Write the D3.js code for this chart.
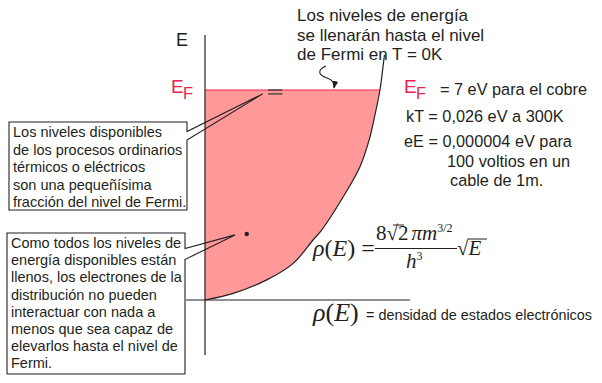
<!DOCTYPE html>
<html><head><meta charset="utf-8">
<script src="https://cdn.jsdelivr.net/npm/d3@7"></script>
<style>
html,body{margin:0;padding:0;background:#fff;}
svg{display:block;}
.sans{font-family:Arial,"Liberation Sans",Helvetica,sans-serif;}
.serif{font-family:"Times New Roman","Liberation Serif",serif;}
</style></head>
<body>
<svg id="chart" width="602" height="383"></svg>
<script>
// ---- data ----
const curveE   = [0, 0.22, 0.67, 1.22, 2.0, 2.33, 3.44, 4.44, 5.44, 5.67, 7.0, 7.83, 8.17]; // energy (eV)
const curveRho = [0, 0.157, 0.343, 0.49, 0.60, 0.648, 0.768, 0.861, 0.917, 0.926, 0.972, 0.99, 0.997]; // density of states (rel.)
const fermiE = 7;                 // E_F for copper (eV)
const levelBandE = [7.0, 6.87];   // thin band of accessible levels near E_F
const levelBandRho = [0.35, 0.43];
const deepPoint = {rho: 0.232, E: 2.2};
const axisE = [-1.83, 8.83];
const axisRho = [-0.106, 1.139];

const topNote = ["Los niveles de energía", "se llenarán hasta el nivel", "de Fermi en T = 0K"];
const box1Lines = ["Los niveles disponibles", "de los procesos ordinarios", "térmicos o eléctricos", "son una pequeñísima", "fracción del nivel de Fermi."];
const box2Lines = ["Como todos los niveles de", "energía disponibles están", "llenos, los electrones de la", "distribución no pueden", "interactuar con nada a", "menos que sea capaz de", "elevarlos hasta el nivel de", "Fermi."];
const factLines = ["= 7 eV para el cobre", "kT = 0,026 eV a 300K", "eE = 0,000004 eV para", "100 voltios en un", "cable de 1m."];

const INK = "#231f20", RED = "#ec2350", PINK = "#ff9999";

const svg = d3.select("#chart");
const x = d3.scaleLinear().domain([0, 1]).range([205, 385]);
const y = d3.scaleLinear().domain([0, fermiE]).range([300, 90]);

const pts = curveE.map((e, i) => ({E: e, rho: curveRho[i]}));
const filled = pts.filter(d => d.E <= fermiE);
const interp = d3.curveCatmullRom.alpha(0.5);

// filled region
svg.append("path").datum(filled)
  .attr("d", d3.area().y(d => y(d.E)).x0(x(0)).x1(d => x(d.rho)).curve(interp))
  .attr("fill", PINK);

// Fermi level line
svg.append("line").attr("x1", x(0)).attr("x2", x(curveRho[curveE.indexOf(fermiE)]))
  .attr("y1", y(fermiE)).attr("y2", y(fermiE)).attr("stroke", RED).attr("stroke-width", 1.2);

// DOS curve
svg.append("path").datum(pts)
  .attr("d", d3.line().x(d => x(d.rho)).y(d => y(d.E)).curve(interp))
  .attr("fill", "none").attr("stroke", INK).attr("stroke-width", 1.2);

// axes
svg.append("line").attr("x1", x(0)).attr("x2", x(0)).attr("y1", y(axisE[0])).attr("y2", y(axisE[1]))
  .attr("stroke", INK).attr("stroke-width", 1.2);
svg.append("line").attr("x1", x(axisRho[0])).attr("x2", x(axisRho[1])).attr("y1", y(0)).attr("y2", y(0))
  .attr("stroke", INK).attr("stroke-width", 1.2);

// level band marks
svg.selectAll("line.band").data(levelBandE).enter().append("line").attr("class", "band")
  .attr("x1", x(levelBandRho[0])).attr("x2", x(levelBandRho[1]))
  .attr("y1", d => y(d)).attr("y2", d => y(d)).attr("stroke", "#333").attr("stroke-width", 1.2);

// deep point
svg.append("circle").attr("cx", x(deepPoint.rho)).attr("cy", y(deepPoint.E)).attr("r", 2.2).attr("fill", INK);

// callout boxes
function callout(bx, by, bw, bh, w1, w2, tip, lines, tx, ty0, dy) {
  const r = bx + bw;
  svg.append("rect").attr("x", bx).attr("y", by).attr("width", bw).attr("height", bh).attr("fill", "#fff");
  svg.append("path").attr("d",
      `M${r},${w1} V${by} H${bx} V${by + bh} H${r} V${w2} L${tip[0]},${tip[1]} Z`)
    .attr("fill", "none").attr("stroke", INK).attr("stroke-width", 1.1);
  const t = svg.append("text").attr("class", "sans").attr("font-size", 14.5).attr("fill", INK);
  lines.forEach((s, i) => t.append("tspan").attr("x", tx).attr("y", ty0 + i * dy).text(s));
}
callout(9, 122, 178, 88, 131.5, 140, [x(0.32), y(6.87)], box1Lines, 13, 137, 17.5);
callout(7, 233, 178, 141, 248.5, 259.5, [x(0.167), y(2.17)], box2Lines, 11, 248, 17.2);

// axis label E
svg.append("text").attr("class", "sans").attr("x", 176).attr("y", 46).attr("font-size", 18).attr("fill", INK).text("E");

// E_F labels
function ef(xx, base) {
  const t = svg.append("text").attr("class", "sans").attr("fill", RED);
  t.append("tspan").attr("x", xx).attr("y", base).attr("font-size", 19).text("E");
  t.append("tspan").attr("x", xx + 12).attr("y", base + 6).attr("font-size", 16.5).text("F");
}
ef(171, 93);
ef(404, 93);

// top note
const tn = svg.append("text").attr("class", "sans").attr("font-size", 17).attr("fill", INK);
topNote.forEach((s, i) => tn.append("tspan").attr("x", 297).attr("y", 21 + i * 19.6).text(s));

// squiggle arrow
svg.append("defs").append("marker").attr("id", "ah").attr("viewBox", "0 0 10 10")
  .attr("refX", 9).attr("refY", 5).attr("markerWidth", 7).attr("markerHeight", 7).attr("orient", "auto")
  .append("path").attr("d", "M0,1 L10,5 L0,9 Z").attr("fill", INK);
const tipY = y(fermiE) - 2;
svg.append("path").attr("d", `M326,66 C317,70 318,75 327,78 C333,80 335,83 334,${tipY}`)
  .attr("fill", "none").attr("stroke", INK).attr("stroke-width", 1.1).attr("marker-end", "url(#ah)");

// facts
const factPos = [[440, 95], [406, 121.5], [404, 147], [447, 166.5], [450, 185.5]];
factLines.forEach((s, i) => svg.append("text").attr("class", "sans").attr("font-size", 16.3).attr("fill", INK)
  .attr("x", factPos[i][0]).attr("y", factPos[i][1]).text(s));

// formula
const F = svg.append("g").attr("class", "serif").attr("fill", INK);
const rhoE = (g, xx, yy, fs) => {
  const t = g.append("text").attr("x", xx).attr("y", yy).attr("font-size", fs);
  t.append("tspan").attr("font-style", "italic").text("ρ");
  t.append("tspan").text("(");
  t.append("tspan").attr("font-style", "italic").text("E");
  t.append("tspan").text(")");
  return t;
};
const t0 = rhoE(F, 313, 256, 24);
t0.append("tspan").text(" =");
F.append("line").attr("x1", 375).attr("x2", 457).attr("y1", 248.5).attr("y2", 248.5).attr("stroke", INK).attr("stroke-width", 1.1);
const num = F.append("text").attr("x", 376).attr("y", 240).attr("font-size", 21);
num.append("tspan").text("8√2");
num.append("tspan").attr("dx", 3).attr("font-style", "italic").text("π");
num.append("tspan").attr("font-style", "italic").text("m");
num.append("tspan").attr("font-size", 12).attr("dy", -8).text("3/2");
F.append("line").attr("x1", 393).attr("x2", 404).attr("y1", 225).attr("y2", 225).attr("stroke", INK).attr("stroke-width", 1);
const den = F.append("text").attr("x", 406).attr("y", 268).attr("font-size", 21);
den.append("tspan").attr("font-style", "italic").text("h");
den.append("tspan").attr("font-size", 12).attr("dy", -8).text("3");
const sq = F.append("text").attr("x", 457).attr("y", 255).attr("font-size", 21);
sq.append("tspan").text("√");
sq.append("tspan").attr("font-style", "italic").text("E");
F.append("line").attr("x1", 468).attr("x2", 487).attr("y1", 239).attr("y2", 239).attr("stroke", INK).attr("stroke-width", 1);

// bottom definition
rhoE(F, 313, 321, 26);
svg.append("text").attr("class", "sans").attr("x", 366).attr("y", 320).attr("font-size", 14.4).attr("fill", INK)
  .text("= densidad de estados electrónicos");
</script>
</body></html>
